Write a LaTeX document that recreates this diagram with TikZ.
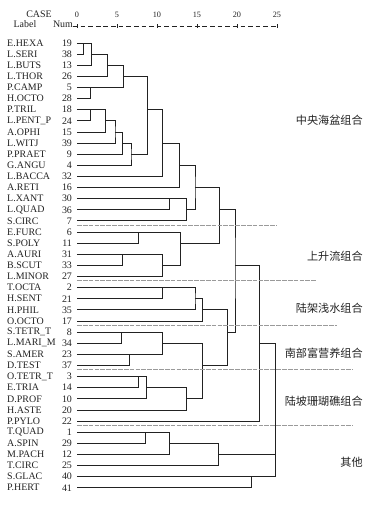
\documentclass[tikz,border=0pt]{standalone}
\usepackage{fontspec}
\setmainfont{Liberation Serif}
\newfontfamily\cjk{Noto Sans CJK SC}
\usetikzlibrary{positioning}
\definecolor{ink}{HTML}{222222}
\definecolor{rule}{HTML}{9A9A9A}

% name, distance, row, upper child, lower child
\newcommand{\merge}[5]{%
  \coordinate (#1) at (#2,-#3);
  \draw[branch] (#4) -| (#1) |- (#5);}

\begin{document}
\begin{tikzpicture}[x=0.24cm, y=0.3336cm,
      every node/.style={font=\fontsize{8.5}{10}\selectfont, color=ink, inner sep=0pt},
      lbl/.style={anchor=west},
      num/.style={anchor=east},
      tick/.style={font=\fontsize{7}{8}\selectfont},
      grp/.style={font=\cjk\fontsize{9.5}{11}\selectfont, anchor=east},
      branch/.style={line width=0.7pt, color=ink},
      sep/.style={line width=0.45pt, color=rule, dash pattern=on 4pt off 1pt}]

    \useasboundingbox (-9.625,2.867) rectangle (38.375,-42.55);

    % header and distance scale
    \node (case) at (-4.75,1.6) {CASE};
    \node (label) at (-6.5,0.71) {Label};
    \node (numhd) at (-1.75,0.71) {Num};
    \draw[ink, line width=0.5pt, dash pattern=on 4pt off 2.5pt] (-0.5,0.53) -- (25,0.53);
    \foreach \t in {0,5,...,25} {
      \draw[ink, line width=0.5pt] (\t,0.38) -- (\t,0.68);
      \node[tick] (t\t) at (\t,1.52) {\t};
    }

    % leaves
    \foreach \lab/\idx [count=\r] in {E.HEXA/19, L.SERI/38, L.BUTS/13, L.THOR/26,
        P.CAMP/5, H.OCTO/28, P.TRIL/18, L.PENT\_P/24, A.OPHI/15, L.WITJ/39,
        P.PRAET/9, G.ANGU/4, L.BACCA/32, A.RETI/16, L.XANT/30, L.QUAD/36,
        S.CIRC/7, E.FURC/6, S.POLY/11, A.AURI/31, B.SCUT/33, L.MINOR/27,
        T.OCTA/2, H.SENT/21, H.PHIL/35, O.OCTO/17, S.TETR\_T/8, L.MARI\_M/34,
        S.AMER/23, D.TEST/37, O.TETR\_T/3, E.TRIA/14, D.PROF/10, H.ASTE/20,
        P.PYLO/22, T.QUAD/1, A.SPIN/29, M.PACH/12, T.CIRC/25, S.GLAC/40,
        P.HERT/41} {
      \node[lbl] (name\r) at (-8.75,-\r) {\lab};
      \node[num] (num\r) at (-0.6,-\r) {\idx};
      \coordinate (l\r) at (0,-\r);
    }

    % clusters
    \merge{m1}{0.8}{1}{l1}{l2}
    \merge{m2}{1.8}{2}{m1}{l3}
    \merge{m3}{3.8}{3}{m2}{l4}
    \merge{m4}{1.7}{5}{l5}{l6}
    \merge{m5}{5.8}{4}{m3}{m4}
    \merge{m6}{1.7}{7}{l7}{l8}
    \merge{m7}{3.6}{8}{m6}{l9}
    \merge{m8}{4.75}{9}{m7}{l10}
    \merge{m9}{5.7}{10}{m8}{l11}
    \merge{m10}{6.75}{11}{m9}{l12}
    \merge{m11}{8.8}{7}{m5}{m10}
    \merge{m12}{10.7}{10}{m11}{l13}
    \merge{m13}{12.8}{12}{m12}{l14}
    \merge{m14}{11.6}{15}{l15}{l16}
    \merge{m15}{13.7}{16}{m14}{l17}
    \merge{m16}{14.75}{14}{m13}{m15}
    \merge{m17}{7.7}{18}{l18}{l19}
    \merge{m18}{5.7}{20}{l20}{l21}
    \merge{m19}{10.7}{21}{m18}{l22}
    \merge{m20}{12.9}{19}{m17}{m19}
    \merge{m21}{17.8}{16}{m16}{m20}
    \merge{m22}{10.7}{23}{l23}{l24}
    \merge{m23}{14.75}{24}{m22}{l25}
    \merge{m24}{15.7}{25}{m23}{l26}
    \merge{m25}{5.6}{27}{l27}{l28}
    \merge{m26}{6.6}{29}{l29}{l30}
    \merge{m27}{10.7}{28}{m25}{m26}
    \merge{m28}{7.7}{31}{l31}{l32}
    \merge{m29}{8.7}{32}{m28}{l33}
    \merge{m30}{13.7}{33}{m29}{l34}
    \merge{m31}{15.7}{30}{m27}{m30}
    \merge{m32}{18.8}{27}{m24}{m31}
    \merge{m33}{19.75}{21}{m21}{m32}
    \merge{m34}{22.8}{28}{m33}{l35}
    \merge{m35}{8.6}{36}{l36}{l37}
    \merge{m36}{11.6}{37}{m35}{l38}
    \merge{m37}{17.7}{38}{m36}{l39}
    \merge{m38}{21.8}{40}{l40}{l41}
    \merge{m39}{24.75}{33}{m34}{m37}
    \merge{m40}{24.75}{36}{m39}{m38}

    % group separators
    \foreach \s/\e in {17.4/24.96, 22.35/29.96, 26.35/32.46, 30.3/34.54, 35.4/34.54}
      \draw[sep] (0,-\s) -- (\e,-\s);

    % assemblage names
    \node[grp] (g1) at (35.75,-7.93) {中央海盆组合};
    \node[grp] (g2) at (35.75,-20.2) {上升流组合};
    \node[grp] (g3) at (35.75,-24.83) {陆架浅水组合};
    \node[grp] (g4) at (35.75,-28.88) {南部富营养组合};
    \node[grp] (g5) at (35.75,-33.26) {陆坡珊瑚礁组合};
    \node[grp] (g6) at (35.75,-38.74) {其他};
  \end{tikzpicture}
\end{document}
